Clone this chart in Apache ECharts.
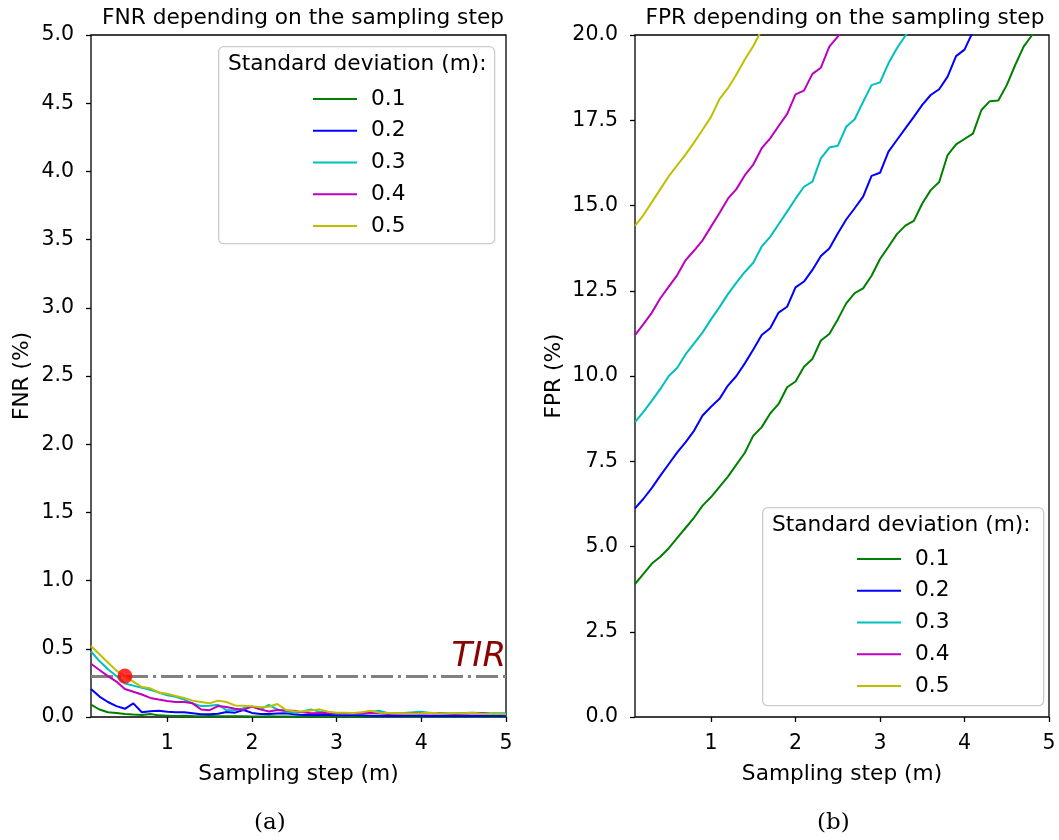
<!DOCTYPE html>
<html>
<head>
<meta charset="utf-8">
<script src="https://cdn.jsdelivr.net/npm/echarts@6/dist/echarts.min.js"></script>
<style>
  html, body { margin: 0; padding: 0; background: #fff; }
  #chart { width: 1059px; height: 840px; }
</style>
</head>
<body>
<div id="chart"></div>
<script>
// sampling steps (m), shared by both panels
const steps = [0.1, 0.2, 0.3, 0.4, 0.5, 0.6, 0.7, 0.8, 0.9, 1.0,
  1.1, 1.2, 1.3, 1.4, 1.5, 1.6, 1.7, 1.8, 1.9, 2.0,
  2.1, 2.2, 2.3, 2.4, 2.5, 2.6, 2.7, 2.8, 2.9, 3.0,
  3.1, 3.2, 3.3, 3.4, 3.5, 3.6, 3.7, 3.8, 3.9, 4.0,
  4.1, 4.2, 4.3, 4.4, 4.5, 4.6, 4.7, 4.8, 4.9, 5.0]
const sigmas = ['0.1', '0.2', '0.3', '0.4', '0.5']
const colors = ['#008000', '#0000ff', '#00bfbf', '#bf00bf', '#bfbf00']

// FNR (%)
const fnr01 = [0.09, 0.055, 0.035, 0.03, 0.022, 0.018, 0.015, 0.022, 0.012, 0.010,
  0.008, 0.010, 0.007, 0.006, 0.008, 0.006, 0.005, 0.006, 0.005, 0.004,
  0.004, 0.005, 0.004, 0.003, 0.004, 0.003, 0.003, 0.004, 0.003, 0.003,
  0.003, 0.004, 0.003, 0.003, 0.003, 0.002, 0.003, 0.003, 0.002, 0.003,
  0.003, 0.002, 0.003, 0.002, 0.002, 0.003, 0.002, 0.002, 0.002, 0.002]
const fnr02 = [0.205, 0.15, 0.11, 0.08, 0.06, 0.10, 0.035, 0.042, 0.045, 0.038,
  0.035, 0.035, 0.028, 0.020, 0.020, 0.024, 0.036, 0.032, 0.051, 0.030,
  0.022, 0.022, 0.025, 0.027, 0.020, 0.015, 0.015, 0.014, 0.015, 0.013,
  0.012, 0.012, 0.012, 0.010, 0.009, 0.007, 0.008, 0.009, 0.010, 0.010,
  0.008, 0.007, 0.008, 0.007, 0.007, 0.008, 0.007, 0.007, 0.007, 0.007]
const fnr03 = [0.48, 0.41, 0.35, 0.30, 0.245, 0.23, 0.215, 0.20, 0.18, 0.16,
  0.148, 0.128, 0.10, 0.08, 0.082, 0.09, 0.05, 0.05, 0.064, 0.076,
  0.056, 0.088, 0.056, 0.040, 0.032, 0.040, 0.056, 0.038, 0.032, 0.030,
  0.027, 0.027, 0.032, 0.036, 0.046, 0.030, 0.027, 0.030, 0.034, 0.039,
  0.030, 0.027, 0.027, 0.027, 0.030, 0.032, 0.030, 0.028, 0.028, 0.027]
const fnr04 = [0.39, 0.345, 0.30, 0.26, 0.205, 0.185, 0.165, 0.14, 0.128, 0.118,
  0.11, 0.11, 0.10, 0.055, 0.05, 0.08, 0.074, 0.06, 0.052, 0.076,
  0.056, 0.040, 0.051, 0.048, 0.046, 0.034, 0.027, 0.030, 0.032, 0.028,
  0.027, 0.027, 0.029, 0.032, 0.028, 0.022, 0.024, 0.026, 0.027, 0.026,
  0.026, 0.027, 0.024, 0.022, 0.024, 0.026, 0.027, 0.024, 0.022, 0.022]
const fnr05 = [0.52, 0.46, 0.40, 0.34, 0.30, 0.26, 0.22, 0.21, 0.18, 0.17,
  0.155, 0.14, 0.12, 0.11, 0.10, 0.12, 0.11, 0.085, 0.082, 0.078,
  0.072, 0.075, 0.095, 0.052, 0.042, 0.040, 0.048, 0.056, 0.038, 0.032,
  0.032, 0.030, 0.035, 0.046, 0.032, 0.030, 0.027, 0.028, 0.026, 0.028,
  0.032, 0.028, 0.026, 0.027, 0.028, 0.032, 0.024, 0.022, 0.024, 0.020]

// FPR (%), lines leave the top of the panel
const fpr01 = [3.90, 4.20, 4.50, 4.70, 4.95, 5.25, 5.55, 5.85, 6.20, 6.45,
  6.75, 7.05, 7.40, 7.75, 8.25, 8.50, 8.90, 9.18, 9.67, 9.84,
  10.27, 10.50, 11.04, 11.23, 11.66, 12.13, 12.43, 12.57, 12.94, 13.43,
  13.79, 14.16, 14.41, 14.55, 15.06, 15.45, 15.69, 16.48, 16.79, 16.95,
  17.11, 17.80, 18.06, 18.08, 18.53, 19.12, 19.66, 20.00, 20.35]
const fpr02 = [6.12, 6.40, 6.72, 7.08, 7.42, 7.76, 8.06, 8.40, 8.84, 9.10,
  9.33, 9.72, 10.00, 10.37, 10.78, 11.20, 11.40, 11.86, 12.03, 12.60,
  12.77, 13.11, 13.52, 13.74, 14.18, 14.59, 14.92, 15.26, 15.87, 15.96,
  16.58, 16.92, 17.26, 17.60, 17.95, 18.24, 18.41, 18.78, 19.38, 19.57,
  20.10]
const fpr03 = [8.65, 8.95, 9.28, 9.62, 10.00, 10.24, 10.64, 10.96, 11.28, 11.66,
  12.02, 12.40, 12.74, 13.05, 13.32, 13.80, 14.08, 14.45, 14.82, 15.20,
  15.55, 15.70, 16.38, 16.70, 16.75, 17.31, 17.53, 18.04, 18.53, 18.61,
  19.17, 19.61, 19.98, 20.30]
const fpr04 = [11.20, 11.52, 11.86, 12.28, 12.62, 12.96, 13.40, 13.68, 13.98, 14.38,
  14.78, 15.20, 15.48, 15.89, 16.20, 16.68, 16.97, 17.33, 17.68, 18.26,
  18.37, 18.86, 19.04, 19.66, 19.95, 20.30]
const fpr05 = [14.40, 14.72, 15.10, 15.48, 15.86, 16.18, 16.50, 16.85, 17.22, 17.60,
  18.12, 18.44, 18.84, 19.28, 19.68, 20.15]

const tirLevel = 0.3
const tirPoint = [[0.5, 0.3]]

const xTicks = [1, 2, 3, 4, 5]

const FONT = 'DejaVu Sans'
const TICK_SIZE = 20.5
const TEXT_SIZE = 21.7

function pairs(vals) {
  return vals.map(function (v, i) { return [steps[i], v] })
}

function xAxisOf(idx) {
  return {
    type: 'value', gridIndex: idx, min: 0.1, max: 5,
    name: 'Sampling step (m)', nameLocation: 'middle', nameGap: 46,
    nameTextStyle: { fontFamily: FONT, fontSize: TEXT_SIZE, color: '#000' },
    axisLine: { show: false },
    axisTick: { show: true, length: 5, lineStyle: { color: '#000', width: 1.3 }, customValues: xTicks },
    axisLabel: { fontFamily: FONT, fontSize: TICK_SIZE, color: '#000', margin: 16, customValues: xTicks },
    splitLine: { show: false }
  }
}

function yAxisOf(idx, name, max, interval, gap) {
  return {
    type: 'value', gridIndex: idx, min: 0, max: max, interval: interval,
    name: name, nameLocation: 'middle', nameGap: gap,
    nameTextStyle: { fontFamily: FONT, fontSize: TEXT_SIZE, color: '#000' },
    axisLine: { show: false },
    axisTick: { show: true, length: 5, lineStyle: { color: '#000', width: 1.3 } },
    axisLabel: { fontFamily: FONT, fontSize: TICK_SIZE, color: '#000', margin: 17,
      formatter: function (v) { return v.toFixed(1) } },
    splitLine: { show: false }
  }
}

const fnrData = [fnr01, fnr02, fnr03, fnr04, fnr05]
const fprData = [fpr01, fpr02, fpr03, fpr04, fpr05]

const series = []
fnrData.forEach(function (vals, i) {
  series.push({
    name: sigmas[i], type: 'line', xAxisIndex: 0, yAxisIndex: 0,
    data: pairs(vals), showSymbol: false, symbol: 'none',
    lineStyle: { color: colors[i], width: 2 }, itemStyle: { color: colors[i] },
    z: 3 + i
  })
})
fprData.forEach(function (vals, i) {
  series.push({
    name: sigmas[i], type: 'line', xAxisIndex: 1, yAxisIndex: 1,
    data: pairs(vals), showSymbol: false, symbol: 'none',
    lineStyle: { color: colors[i], width: 2 }, itemStyle: { color: colors[i] },
    z: 3 + i
  })
})
// TIR threshold line with its label
series.push({
  name: 'TIR', type: 'line', xAxisIndex: 0, yAxisIndex: 0, data: [],
  markLine: {
    silent: true, symbol: 'none',
    lineStyle: { color: '#808080', width: 3, type: [22, 5, 3, 5] },
    label: { show: true, position: 'insideEndTop', formatter: 'TIR', distance: [0, 2],
      fontFamily: FONT, fontStyle: 'italic', fontSize: 34, color: '#8b0000' },
    data: [{ yAxis: tirLevel }]
  },
  z: 2
})
series.push({
  name: 'point', type: 'scatter', xAxisIndex: 0, yAxisIndex: 0,
  data: tirPoint, symbolSize: 15, itemStyle: { color: '#ff0000' }, z: 10
})

function legendOf(left, top) {
  return {
    data: sigmas.map(function (s) { return { name: s, icon: 'rect' } }),
    orient: 'vertical', left: left, top: top,
    itemWidth: 44, itemHeight: 2, itemGap: 9.75,
    selectedMode: false, z: 60,
    textStyle: { fontFamily: FONT, fontSize: TEXT_SIZE, color: '#000', lineHeight: 21, padding: [0, 0, 0, 9] }
  }
}

function legendBox(x, y, w, h) {
  return [
    { type: 'rect', left: x, top: y, shape: { width: w, height: h, r: 5 },
      style: { fill: '#fff', stroke: '#cccccc', lineWidth: 1.3 }, z: 50 },
    { type: 'text', left: x + 10, top: y + 7,
      style: { text: 'Standard deviation (m):', font: TEXT_SIZE + 'px "DejaVu Sans"', fill: '#000' }, z: 51 }
  ]
}

const chart = echarts.init(document.getElementById('chart'), null, { renderer: 'canvas' })
chart.setOption({
  animation: false,
  backgroundColor: '#fff',
  title: [
    { text: 'FNR depending on the sampling step', left: 298, top: 2, textAlign: 'center',
      textStyle: { fontFamily: FONT, fontSize: TEXT_SIZE, fontWeight: 'normal', color: '#000' } },
    { text: 'FPR depending on the sampling step', left: 840, top: 2, textAlign: 'center',
      textStyle: { fontFamily: FONT, fontSize: TEXT_SIZE, fontWeight: 'normal', color: '#000' } }
  ],
  grid: [
    { left: 91, right: 553, top: 35, bottom: 123, show: true, borderColor: '#000', borderWidth: 1.3 },
    { left: 635, right: 10, top: 35, bottom: 123, show: true, borderColor: '#000', borderWidth: 1.3 }
  ],
  xAxis: [xAxisOf(0), xAxisOf(1)],
  yAxis: [yAxisOf(0, 'FNR (%)', 5, 0.5, 58), yAxisOf(1, 'FPR (%)', 20, 2.5, 70)],
  legend: [legendOf(308, 83), legendOf(852, 543)],
  graphic: legendBox(218, 46, 276, 197).concat(legendBox(762, 507, 281, 198)).concat([
    { type: 'text', left: 254, top: 812, style: { text: '(a)', font: '23px "DejaVu Serif"', fill: '#000' } },
    { type: 'text', left: 817, top: 812, style: { text: '(b)', font: '23px "DejaVu Serif"', fill: '#000' } }
  ]),
  series: series
})
</script>
</body>
</html>
